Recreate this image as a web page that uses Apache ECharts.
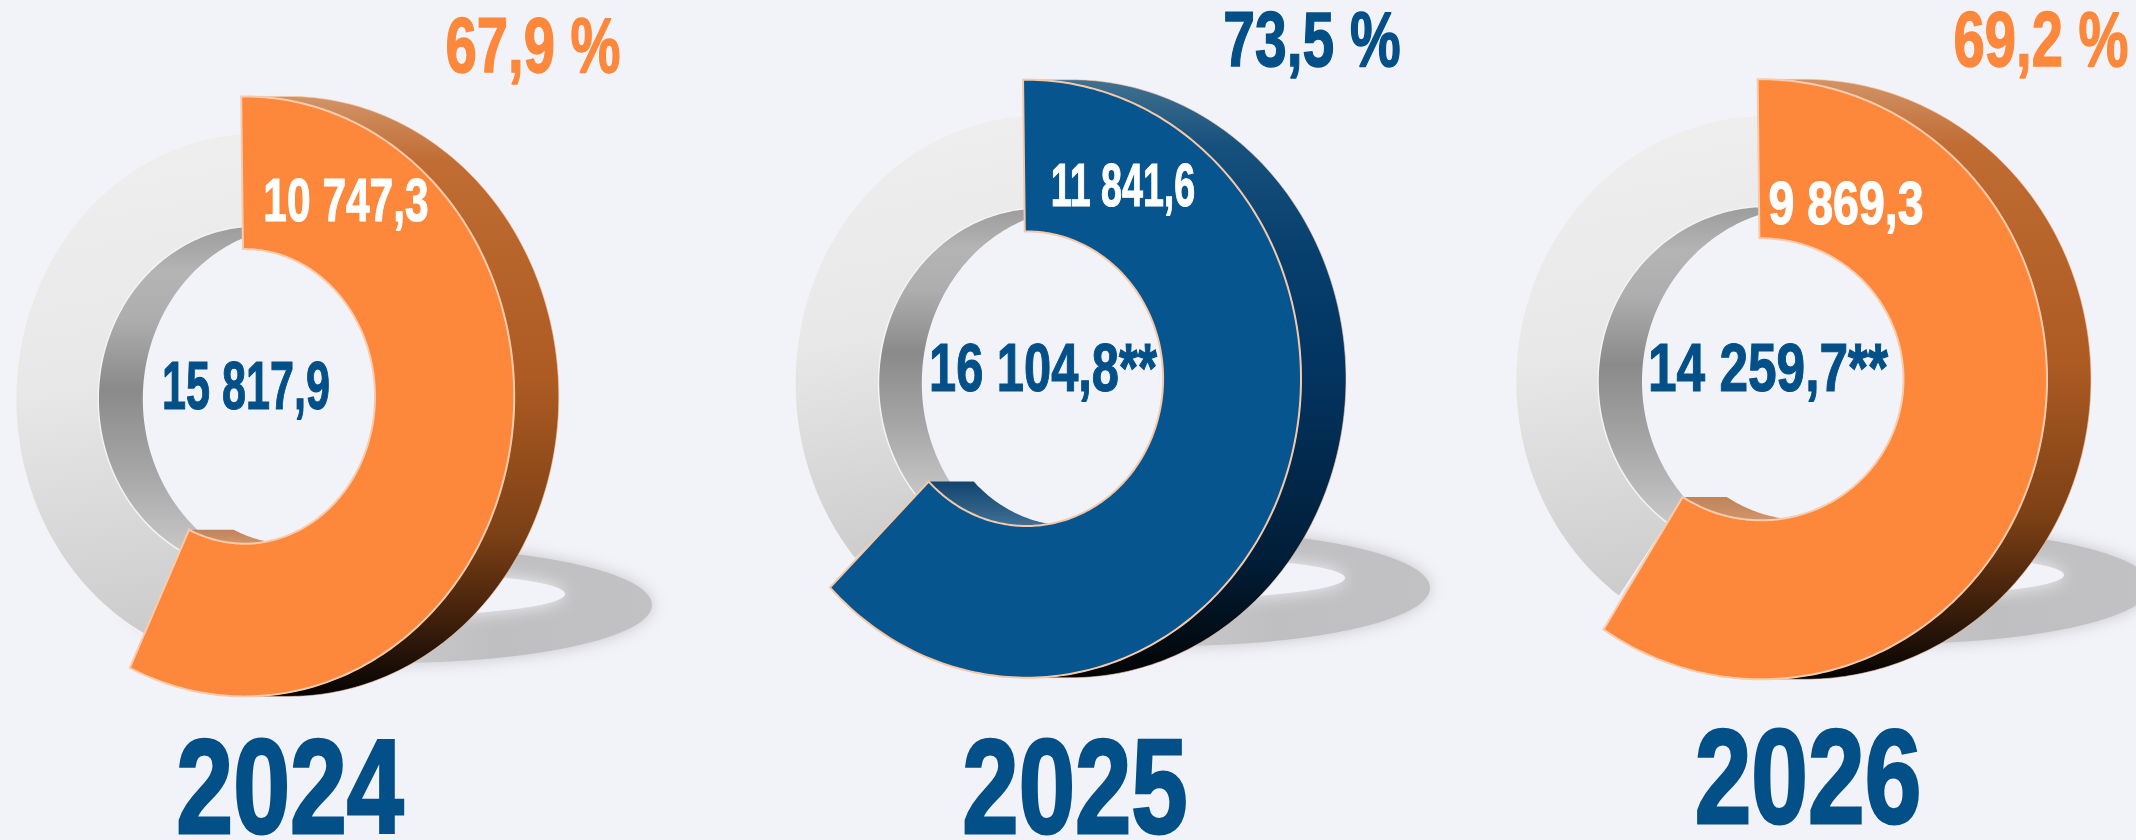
<!DOCTYPE html>
<html>
<head>
<meta charset="utf-8">
<title>Donuts 2024-2026</title>
<script src="https://cdn.jsdelivr.net/npm/echarts@6/dist/echarts.min.js"></script>
<style>
  html, body { margin: 0; padding: 0; background: #f2f3f8; }
  #chart { width: 2136px; height: 840px; }
</style>
</head>
<body>
<div id="chart"></div>
<script>
const years = ['2024', '2025', '2026'];
const totalLabels = ['15 817,9', '16 104,8**', '14 259,7**'];
const partLabels = ['10 747,3', '11 841,6', '9 869,3'];
const shareLabels = ['67,9 %', '73,5 %', '69,2 %'];
// the slices in the picture are drawn narrower than the printed share, these are measured off the rings (% of a turn)
const drawnPartShare = [57.0, 62.7, 59.3];
const drawnRestShare = [42.6, 36.4, 40.0];

const BG = '#f2f3f8';
const ORANGE = {
  face: '#fd873a',
  edge: '#f9cbad',
  side: [[0, '#d29468'], [0.11, '#c06c33'], [0.47, '#ad5b23'], [0.73, '#7c4015'], [0.87, '#40200b'], [1, '#030303']],
  wedge: [[0, '#c0835a'], [1, '#d0956a']]
};
const BLUE = {
  face: '#06558f',
  edge: '#f6c8a8',
  side: [[0, '#41718f'], [0.11, '#16507c'], [0.3, '#063f6d'], [0.5, '#03335f'], [0.8, '#011e38'], [1, '#030303']],
  wedge: [[0, '#12456e'], [1, '#3f7096']]
};
const TEXT_BLUE = '#034f87';
const TEXT_FONT = '"Liberation Sans", sans-serif';

// px boxes of the rings, one entry per donut; text entries are [centre x, centre y, scaleX]
const donuts = [
  {
    theme: ORANGE, shareColor: ORANGE.face,
    front: { cx: 244.6, cy: 396.4, rx: 269.6, ry: 300, irx: 130.4, iry: 147.3, depth: 44.6 },
    back: { cx: 256.7, cy: 399, rx: 241, ry: 266, irx: 158.5, iry: 173, depth: 44.6 },
    shadow: { cx: 390, cy: 605, rx: 262, ry: 58, hcx: 380, hcy: 594, hrx: 185, hry: 22 },
    share: [533, 45, 0.72], part: [346, 200, 0.685], total: [246, 385, 0.635], year: [290, 787, 0.763]
  },
  {
    theme: BLUE, shareColor: TEXT_BLUE,
    front: { cx: 1026.5, cy: 378.7, rx: 274.5, ry: 299, irx: 136.6, iry: 147.3, depth: 45 },
    back: { cx: 1039.5, cy: 383, rx: 244.6, ry: 268, irx: 161, iry: 175, depth: 43.3 },
    shadow: { cx: 1168, cy: 588, rx: 262, ry: 58, hcx: 1160, hcy: 578, hrx: 185, hry: 21 },
    share: [1312, 39, 0.73], part: [1123, 185, 0.607], total: [1043, 367, 0.718], year: [1075, 787, 0.756]
  },
  {
    theme: ORANGE, shareColor: ORANGE.face,
    front: { cx: 1761.2, cy: 379.3, rx: 285.8, ry: 300, irx: 142.3, iry: 141, depth: 44 },
    back: { cx: 1766.6, cy: 381.4, rx: 251, ry: 266, irx: 168.6, iry: 175, depth: 44 },
    shadow: { cx: 1889, cy: 586, rx: 262, ry: 58, hcx: 1879, hcy: 575, hrx: 185, hry: 21 },
    share: [2041, 39, 0.72], part: [1846, 203, 0.75], total: [1768, 367, 0.756], year: [1808, 777, 0.76]
  }
];

const toDeg = (share) => share * 3.6;
const gradient = (x2, y2, stops) => new echarts.graphic.LinearGradient(0, 0, x2, y2,
  stops.map(([offset, color]) => ({ offset, color })));

// points along an elliptical arc, unit circle values go through the grid's axes
const arc = (api, box, inner, fromDeg, toDegree, shift) => {
  const kx = inner ? box.irx / box.rx : 1;
  const ky = inner ? box.iry / box.ry : 1;
  const dx = (shift || 0) / box.rx;
  const count = Math.max(2, Math.ceil(Math.abs(toDegree - fromDeg)));
  const points = [];
  for (let i = 0; i <= count; i++) {
    const t = (fromDeg + (toDegree - fromDeg) * i / count) * Math.PI / 180;
    points.push(api.coord([kx * Math.sin(t) + dx, ky * Math.cos(t)]));
  }
  return points;
};

const polygon = (points, style) => ({ type: 'polygon', shape: { points }, style, silent: true });

const grids = [];
const xAxes = [];
const yAxes = [];
const addGrid = (box) => {
  grids.push({
    left: box.cx - box.rx,
    top: box.cy - box.ry,
    width: box.rx * 2,
    height: box.ry * 2,
    containLabel: false,
    outerBoundsMode: 'none',
    show: false
  });
  const gridIndex = grids.length - 1;
  xAxes.push({ type: 'value', gridIndex, min: -1, max: 1, show: false });
  yAxes.push({ type: 'value', gridIndex, min: -1, max: 1, show: false });
  return gridIndex;
};

const customSeries = (gridIndex, data, renderItem) => ({
  type: 'custom',
  xAxisIndex: gridIndex,
  yAxisIndex: gridIndex,
  clip: false,
  silent: true,
  animation: false,
  data,
  renderItem
});

const shadowSeries = [];
const ringSeries = [];

donuts.forEach((d, i) => {
  // floor shadow
  const s = d.shadow;
  shadowSeries.push(customSeries(addGrid(s), [[0, 100]], (params, api) => ({
    type: 'group',
    children: [
      polygon(arc(api, s, false, 0, 360), {
        fill: gradient(1, 0, [[0.08, '#e8e8ec'], [0.35, '#d2d2d5'], [0.7, '#bfbfc1'], [1, '#c2c2c4']]),
        shadowBlur: 16,
        shadowColor: '#c6c6c9'
      }),
      polygon(arc(api, { rx: s.rx, ry: s.ry, irx: s.hrx, iry: s.hry }, true, 0, 360, s.hcx - s.cx)
        .map((p) => [p[0], p[1] + (s.hcy - s.cy)]), {
        fill: BG,
        shadowBlur: 18,
        shadowColor: BG
      })
    ]
  })));

  // grey remainder ring, with the wall of its hole
  const b = d.back;
  ringSeries.push(customSeries(addGrid(b), [[100 - drawnRestShare[i], 100]], (params, api) => {
    const from = toDeg(api.value(0));
    const to = toDeg(api.value(1));
    return {
      type: 'group',
      children: [
        polygon(arc(api, b, true, from, to, b.depth).concat(arc(api, b, true, to, from)), {
          fill: gradient(0, 1, [[0, '#9c9c9c'], [0.14, '#b4b4b4'], [0.28, '#aeaeae'], [0.5, '#8a8a8a'], [0.75, '#a6a6a6'], [1, '#c8c8c8']])
        }),
        polygon(arc(api, b, false, from, to).concat(arc(api, b, true, to, from)), {
          fill: gradient(0.35, 1, [[0, '#efefef'], [0.5, '#e8e8e8'], [1, '#cdcccc']]),
          stroke: '#f3f3f5',
          lineWidth: 1.5
        })
      ]
    };
  }));

  // coloured slice: side, wedge of the hole wall, then the face
  const f = d.front;
  const th = d.theme;
  ringSeries.push(customSeries(addGrid(f), [[-0.2, drawnPartShare[i]]], (params, api) => {
    const from = toDeg(api.value(0));
    const to = toDeg(api.value(1));
    return {
      type: 'group',
      children: [
        polygon(arc(api, f, false, 0, 180, f.depth).concat(arc(api, f, false, 180, 0)), {
          fill: gradient(0, 1, th.side),
          stroke: th.edge,
          lineWidth: 0.6
        }),
        polygon(arc(api, f, true, to, 155, f.depth).concat(arc(api, f, true, 155, to)), {
          fill: gradient(0, 1, th.wedge)
        }),
        polygon(arc(api, f, false, from, to).concat(arc(api, f, true, to, from)), {
          fill: th.face,
          stroke: th.edge,
          lineWidth: 2
        })
      ]
    };
  }));
});

// the reference face is a heavy condensed one, so squeeze a bold face and thicken it a little
const textEl = (text, pos, size, fill, weight) => ({
  type: 'text',
  x: pos[0],
  y: pos[1] + size * 0.07,
  scaleX: pos[2],
  silent: true,
  z: 50,
  style: {
    text,
    fill,
    stroke: fill,
    lineWidth: weight,
    font: 'bold ' + size + 'px ' + TEXT_FONT,
    textAlign: 'center',
    textVerticalAlign: 'middle'
  }
});

const labels = [];
donuts.forEach((d, i) => {
  labels.push(textEl(shareLabels[i], d.share, 78, d.shareColor, 1.5));
  labels.push(textEl(partLabels[i], d.part, 62, '#ffffff', 1.2));
  labels.push(textEl(totalLabels[i], d.total, 68, TEXT_BLUE, 1.2));
  labels.push(textEl(years[i], d.year, 134, TEXT_BLUE, 3));
});

const chartInstance = echarts.init(document.getElementById('chart'));
chartInstance.setOption({
  backgroundColor: BG,
  animation: false,
  tooltip: { show: false },
  grid: grids,
  xAxis: xAxes,
  yAxis: yAxes,
  series: shadowSeries.concat(ringSeries),
  graphic: { elements: labels }
});
</script>
</body>
</html>
